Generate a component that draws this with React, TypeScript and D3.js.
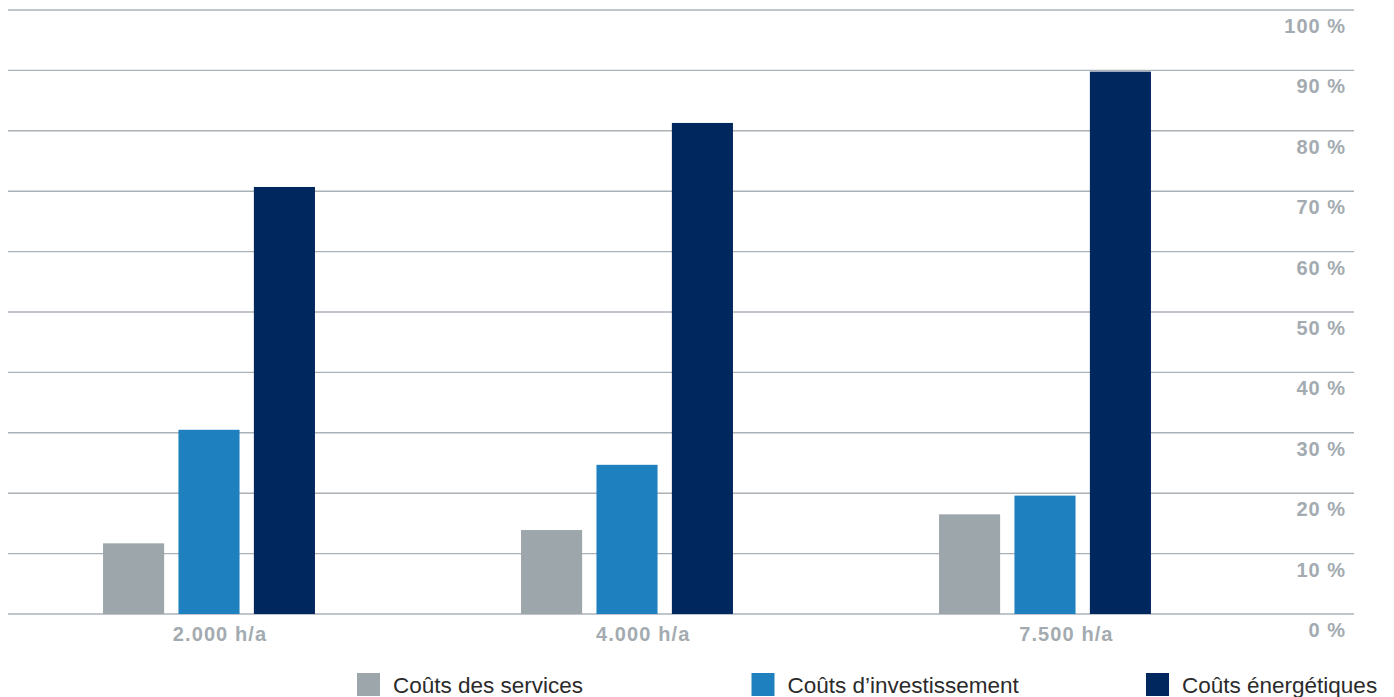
import React from "react";
import * as d3 from "d3";

const categories = ["2.000 h/a", "4.000 h/a", "7.500 h/a"];
const seriesNames = ["Coûts des services", "Coûts d’investissement", "Coûts énergétiques"];
const seriesColors = ["#9ca6ab", "#1e80be", "#00285e"];
const servicesValues = [11.7, 13.9, 16.5];
const investValues = [30.5, 24.7, 19.6];
const energyValues = [70.7, 81.3, 89.8];
const yTicks = [0, 10, 20, 30, 40, 50, 60, 70, 80, 90, 100];

const seriesValues = [servicesValues, investValues, energyValues];

const W = 1394;
const H = 697;

export default function App() {
  const y = d3.scaleLinear().domain([0, 100]).range([614, 10]);

  const xBars = d3
    .scaleBand<string>()
    .domain(categories)
    .range([0, 1254])
    .paddingInner(0.493)
    .paddingOuter(0.2465);

  const xInner = d3
    .scaleBand<string>()
    .domain(seriesNames)
    .range([0, xBars.bandwidth()])
    .paddingInner(0.19);

  const xLabels = d3.scaleBand<string>().domain(categories).range([8.4, 1278]).padding(0);

  const legendX = d3.scalePoint<string>().domain(seriesNames).range([357, 1146]);

  const gridX0 = 8;
  const gridX1 = 1354;
  const labelFont = "'Liberation Sans', Arial, Helvetica, sans-serif";
  const labelColor = "#a3abb1";

  return (
    <svg
      width={W}
      height={H}
      style={{ position: "absolute", left: 0, top: 0, background: "#fff" }}
    >
      <g>
        {yTicks.map((t) => (
          <line
            key={"g" + t}
            x1={gridX0}
            x2={gridX1}
            y1={y(t)}
            y2={y(t)}
            stroke="#aab2b8"
            strokeWidth={1.4}
          />
        ))}
      </g>
      <g>
        {categories.map((c, ci) =>
          seriesNames.map((s, si) => {
            const v = seriesValues[si][ci];
            const x0 = (xBars(c) as number) + (xInner(s) as number);
            return (
              <rect
                key={c + s}
                x={x0}
                y={y(v)}
                width={xInner.bandwidth()}
                height={y(0) - y(v)}
                fill={seriesColors[si]}
              />
            );
          })
        )}
      </g>
      <g>
        {yTicks.map((t) => (
          <text
            key={"t" + t}
            x={1346}
            y={y(t) + 23}
            textAnchor="end"
            fontFamily={labelFont}
            fontWeight="bold"
            fontSize={20}
            letterSpacing={1}
            fill={labelColor}
          >
            {t + " %"}
          </text>
        ))}
      </g>
      <g>
        {categories.map((c) => (
          <text
            key={"x" + c}
            x={(xLabels(c) as number) + xLabels.bandwidth() / 2}
            y={641}
            textAnchor="middle"
            fontFamily={labelFont}
            fontWeight="bold"
            fontSize={20}
            letterSpacing={1.1}
            fill={labelColor}
          >
            {c}
          </text>
        ))}
      </g>
      <g>
        {seriesNames.map((s, i) => (
          <g key={"l" + s} transform={`translate(${legendX(s)},673)`}>
            <rect x={0} y={0} width={23} height={23} fill={seriesColors[i]} />
            <text
              x={36}
              y={20}
              fontFamily={labelFont}
              fontSize={22.5}
              fill="#2b2b2b"
            >
              {s}
            </text>
          </g>
        ))}
      </g>
    </svg>
  );
}
